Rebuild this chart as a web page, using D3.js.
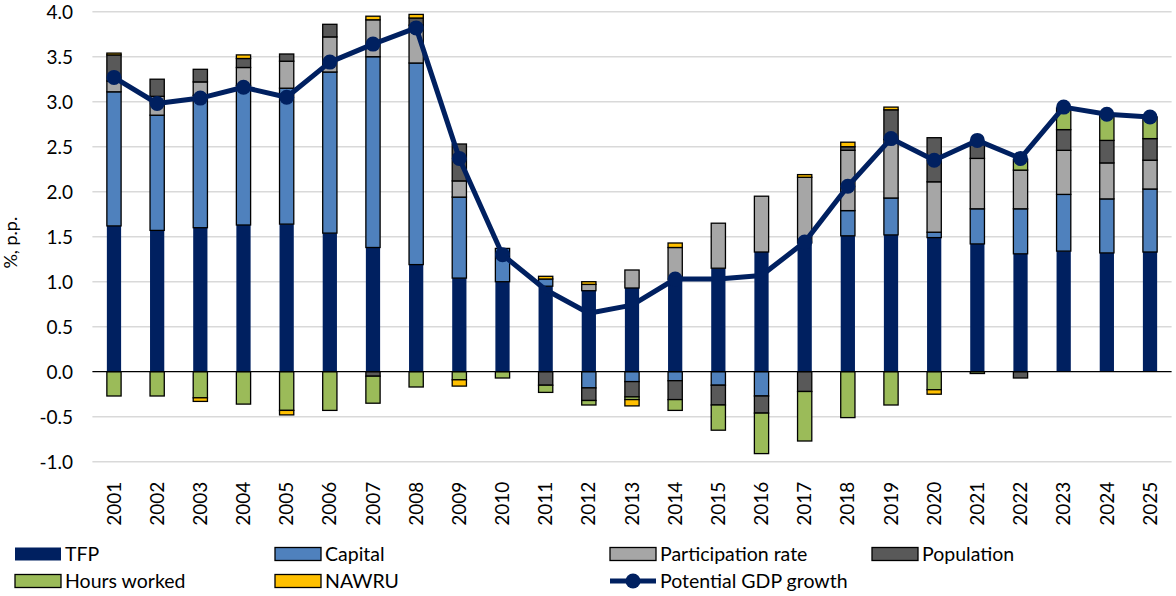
<!DOCTYPE html>
<html>
<head>
<meta charset="utf-8">
<script src="https://cdn.jsdelivr.net/npm/d3@7"></script>
<style>
  html, body { margin: 0; padding: 0; background: #ffffff; }
  svg { display: block; }
  text { font-family: Lato, "Open Sans", sans-serif; fill: #000; }
</style>
</head>
<body>
<svg id="chart" width="1176" height="596"></svg>
<script>
const years = [2001,2002,2003,2004,2005,2006,2007,2008,2009,2010,2011,2012,2013,2014,2015,2016,2017,2018,2019,2020,2021,2022,2023,2024,2025];
const tfp =           [1.62,1.57,1.60,1.63,1.64,1.54,1.38,1.19,1.04,1.00,0.95,0.90,0.93,1.02,1.15,1.33,1.43,1.51,1.52,1.49,1.42,1.31,1.34,1.32,1.33];
const capital =       [1.49,1.28,1.47,1.55,1.51,1.79,2.12,2.24,0.90,0.37,0.08,-0.18,-0.11,-0.10,-0.15,-0.27,0.00,0.28,0.41,0.06,0.39,0.50,0.63,0.60,0.70];
const participation = [0.12,0.21,0.15,0.20,0.30,0.39,0.41,0.42,0.18,0.00,0.00,0.07,0.20,0.36,0.50,0.62,0.73,0.67,0.65,0.56,0.56,0.43,0.49,0.40,0.32];
const population =    [0.29,0.19,0.14,0.10,0.08,0.14,-0.05,0.08,0.41,0.00,-0.15,-0.14,-0.17,-0.21,-0.22,-0.19,-0.22,0.04,0.33,0.49,0.18,-0.07,0.23,0.25,0.24];
const hoursWorked =   [-0.27,-0.27,-0.29,-0.36,-0.43,-0.43,-0.30,-0.17,-0.09,-0.07,-0.08,-0.05,-0.03,-0.12,-0.28,-0.45,-0.55,-0.51,-0.37,-0.20,-0.02,0.12,0.24,0.28,0.24];
const nawru =         [0.02,0.00,-0.04,0.04,-0.05,0.00,0.04,0.04,-0.07,0.00,0.03,0.03,-0.07,0.05,0.00,0.00,0.03,0.05,0.03,-0.05,0.00,0.00,0.00,0.00,0.00];
const potentialGDP =  [3.27,2.98,3.04,3.16,3.05,3.44,3.64,3.82,2.37,1.30,0.91,0.65,0.74,1.03,1.03,1.07,1.44,2.06,2.59,2.35,2.57,2.37,2.94,2.86,2.83];
const yearsWithoutMarker = [2011,2012,2013,2015,2016];
const yTicks = [-1.0,-0.5,0.0,0.5,1.0,1.5,2.0,2.5,3.0,3.5,4.0];

const seriesNames = ["TFP","Capital","Participation rate","Population","Hours worked","NAWRU"];
const seriesValues = [tfp, capital, participation, population, hoursWorked, nawru];
const colors = {"TFP":"#002060","Capital":"#4F81BD","Participation rate":"#A6A6A6","Population":"#595959","Hours worked":"#9BBB59","NAWRU":"#FFC000"};
const lineColor = "#002060";

(function () {
const rows = years.map((yr, i) => {
  const r = {year: yr};
  seriesNames.forEach((n, k) => r[n] = seriesValues[k][i]);
  return r;
});

const svg = d3.select("#chart");
const pLeft = 92.4, pRight = 1171.6, pTop = 11.7, pBottom = 461.7;

const x = d3.scaleBand().domain(years).range([pLeft, pRight]).paddingInner(0.67).paddingOuter(0.335);
const y = d3.scaleLinear().domain([-1, 4]).range([pBottom, pTop]);

// gridlines
svg.append("g").selectAll("line").data(yTicks.filter(t => t !== 0)).join("line")
  .attr("x1", pLeft).attr("x2", pRight)
  .attr("y1", d => y(d)).attr("y2", d => y(d))
  .attr("stroke", "#d9d9d9").attr("stroke-width", 1.5);

// y tick labels
const fmt = d3.format(".1f");
const yAxis = d3.axisLeft(y).tickValues(yTicks).tickFormat(d => fmt(d).replace("\u2212", "-")).tickSize(0).tickPadding(0);
const yg = svg.append("g").attr("transform", `translate(${73},0)`).call(yAxis);
yg.select(".domain").remove();
yg.selectAll("text").attr("font-size", 19).attr("font-family", "Lato, sans-serif").attr("fill", "#000").attr("dy", "0.35em");

// y title
svg.append("text")
  .attr("transform", `translate(17,${(pTop + pBottom) / 2 + 6}) rotate(-90)`)
  .attr("text-anchor", "middle").attr("font-size", 18)
  .text("%, p.p.");

// stacked bars
const stack = d3.stack().keys(seriesNames).offset(d3.stackOffsetDiverging);
const stacked = stack(rows);

const barG = svg.append("g");
stacked.forEach(layer => {
  const name = layer.key;
  barG.append("g").selectAll("rect").data(layer.filter(d => Math.abs(d[1] - d[0]) > 1e-9)).join("rect")
    .attr("x", d => x(d.data.year))
    .attr("width", x.bandwidth())
    .attr("y", d => y(Math.max(d[0], d[1])))
    .attr("height", d => Math.abs(y(d[0]) - y(d[1])))
    .attr("fill", colors[name])
    .attr("stroke", name === "TFP" ? "none" : "#000")
    .attr("stroke-width", name === "TFP" ? 0 : 1.3);
});

// zero line
svg.append("line").attr("x1", pLeft).attr("x2", pRight)
  .attr("y1", y(0)).attr("y2", y(0)).attr("stroke", "#000").attr("stroke-width", 1.2);

// x labels
const xAxis = d3.axisBottom(x).tickSize(0).tickPadding(0);
const xg = svg.append("g").attr("transform", `translate(0,${pBottom + 20})`).call(xAxis);
xg.select(".domain").remove();
xg.selectAll("text")
  .attr("font-size", 19).attr("font-family", "Lato, sans-serif").attr("fill", "#000")
  .attr("transform", "rotate(-90)")
  .attr("text-anchor", "end")
  .attr("x", 0).attr("y", 0).attr("dy", "0.35em");

// line
const pts = years.map((yr, i) => ({year: yr, v: potentialGDP[i]}));
const line = d3.line().x(d => x(d.year) + x.bandwidth() / 2).y(d => y(d.v));
svg.append("path").datum(pts).attr("d", line)
  .attr("fill", "none").attr("stroke", lineColor).attr("stroke-width", 5).attr("stroke-linejoin", "round");
svg.append("g").selectAll("circle").data(pts.filter(d => !yearsWithoutMarker.includes(d.year))).join("circle")
  .attr("cx", d => x(d.year) + x.bandwidth() / 2).attr("cy", d => y(d.v))
  .attr("r", 7.5).attr("fill", lineColor);

// legend
const legendItems = [
  {name: "TFP", lx: 15, ly: 554, type: "bar"},
  {name: "Capital", lx: 275, ly: 554, type: "bar"},
  {name: "Participation rate", lx: 610, ly: 554, type: "bar"},
  {name: "Population", lx: 872, ly: 554, type: "bar"},
  {name: "Hours worked", lx: 15, ly: 581, type: "bar"},
  {name: "NAWRU", lx: 275, ly: 581, type: "bar"},
  {name: "Potential GDP growth", lx: 610, ly: 581, type: "line"}
];
const lg = svg.append("g");
legendItems.forEach(it => {
  if (it.type === "bar") {
    lg.append("rect").attr("x", it.lx).attr("y", it.ly - 6.5).attr("width", 46).attr("height", 13)
      .attr("fill", colors[it.name])
      .attr("stroke", it.name === "TFP" ? "none" : "#000").attr("stroke-width", 1.3);
  } else {
    lg.append("line").attr("x1", it.lx).attr("x2", it.lx + 46).attr("y1", it.ly).attr("y2", it.ly)
      .attr("stroke", lineColor).attr("stroke-width", 5);
    lg.append("circle").attr("cx", it.lx + 23).attr("cy", it.ly).attr("r", 7.5).attr("fill", lineColor);
  }
  lg.append("text").attr("x", it.lx + 50).attr("y", it.ly).attr("dy", "0.35em")
    .attr("font-size", 19.5).text(it.name);
});
})();
</script>
</body>
</html>
